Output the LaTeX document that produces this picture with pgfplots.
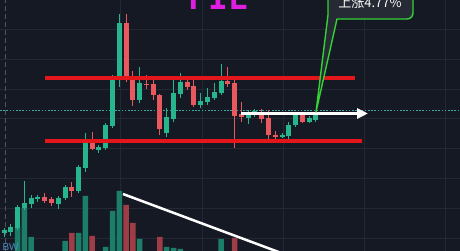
\documentclass[border=0pt]{standalone}
\usepackage{pgfplots}
\pgfplotsset{compat=1.18}
\usepackage{pgfplotstable}
\usepackage{fontspec}
\setmainfont{Liberation Sans}
\setsansfont{Liberation Sans}
\newfontfamily\cjkfont{Noto Sans CJK SC}
\newfontfamily\tickerfont{DejaVu Sans Mono}
\usetikzlibrary{arrows.meta}

\definecolor{chartbg}{HTML}{151924}
\definecolor{gridc}{HTML}{242835}
\definecolor{upc}{HTML}{26B58C}
\definecolor{dnc}{HTML}{E8585F}
\definecolor{upvol}{HTML}{1C7D68}
\definecolor{dnvol}{HTML}{9E3D45}
\definecolor{lvl}{HTML}{E3161B}
\definecolor{lastc}{HTML}{33A6A0}
\definecolor{tickerc}{HTML}{E01EE0}
\definecolor{callbg}{HTML}{262A34}
\definecolor{callgreen}{HTML}{35D235}
\definecolor{bwc}{HTML}{4F8CC4}
\definecolor{crossc}{HTML}{50545F}

% rising candles: x o h l c
\pgfplotstableread{
x o h l c
4.0 18 23 14 21
10.8 19 27 15 24
17.6 23 46 21 44
24.3 43 70 41 48
31.1 47 56 43 53
37.9 52 56 49 54
58.2 47 55 42 53
65.0 53 66 51 64
78.6 60 86 58 84
85.4 83 118 79 109
98.9 101 106 98 104
105.7 103 128 101 126
112.5 125 176 123 174
119.3 173 237 164 228
139.6 151 184 148 168
166.7 118 143 114 134
173.5 132 173 129 158
180.3 157 178 153 169
200.6 146 158 143 150
207.4 149 163 146 154
214.2 153 168 151 159
221.0 158 187 156 170
248.1 133 141 127 138
254.9 136 142 134 140
282.0 114 118 113 116
288.8 115 129 111 126
295.6 126 139 124 136
309.1 129 135 128 133
315.9 131 138 129 136
}\upcandles

% falling candles: x o h l c
\pgfplotstableread{
x o h l c
44.7 54 58 48 50
51.5 52 54 45 48
71.8 64 69 54 60
92.1 109 119 101 102
126.0 228 237 169 171
132.8 172 180 145 151
146.4 167 176 162 166
153.2 167 171 151 156
159.9 156 157 116 122
187.1 169 173 161 164
193.8 165 171 144 146
227.7 170 184 164 167
234.5 168 173 103 135
241.3 137 149 129 134
261.7 139 142 128 132
268.4 133 141 109 116
275.2 116 120 111 114
302.3 136 138 128 129
}\dncandles

% volume
\pgfplotstableread{
x v
17.6 24
24.3 43
31.1 14
65.0 10
78.6 18
85.4 55
105.7 4
112.5 40
119.3 60
139.6 12
166.7 4
173.5 3
180.3 2
221.0 12
}\upvolume

\pgfplotstableread{
x v
71.8 18
92.1 15
126.0 46
132.8 28
159.9 14
234.5 13
}\dnvolume

\pgfplotsset{
  candle/.style n args={2}{draw=none, mark=none, forget plot,
    error bars/.cd, y dir=plus, y explicit, error mark=none,
    error mark options={draw=none, fill=none, mark size=0pt},
    error bar style={line width=#2, line cap=butt, draw=#1}},
  vol/.style={ybar, bar width=5.5, bar shift=0pt, draw=none, fill=#1, forget plot},
  gridline/.style={gridc, line width=0.6pt, forget plot},
}

\begin{document}
\begin{tikzpicture}
\fill[chartbg] (0,0) rectangle (460pt,251pt);
\begin{axis}[
  at={(0,0)}, anchor=south west,
  width=460pt, height=251pt, scale only axis,
  xmin=0, xmax=460, ymin=0, ymax=251,
  hide axis,
  clip=true,
]
% grid
\addplot[gridline] coordinates {(120,0) (120,251)};
\addplot[gridline] coordinates {(202,0) (202,251)};
\addplot[gridline] coordinates {(283,0) (283,251)};
\addplot[gridline] coordinates {(364,0) (364,251)};
\addplot[gridline] coordinates {(445,0) (445,251)};
\addplot[gridline] coordinates {(0,13) (460,13)};
\addplot[gridline] coordinates {(0,43) (460,43)};
\addplot[gridline] coordinates {(0,73) (460,73)};
\addplot[gridline] coordinates {(0,103) (460,103)};
\addplot[gridline] coordinates {(0,133) (460,133)};
\addplot[gridline] coordinates {(0,162) (460,162)};
\addplot[gridline] coordinates {(0,192) (460,192)};
\addplot[gridline] coordinates {(0,222) (460,222)};

% crosshair and last-price line
\addplot[crossc, line width=0.8pt, dash pattern=on 5pt off 3pt] coordinates {(5,0) (5,251)};
\addplot[lastc, line width=0.8pt, dash pattern=on 1.6pt off 1.6pt] coordinates {(0,141) (460,141)};

% volume bars
\addplot[vol=upvol] table[x=x, y=v] {\upvolume};
\addplot[vol=dnvol] table[x=x, y=v] {\dnvolume};

% wicks
\addplot[candle={upc}{1pt}] table[x=x, y=l, y error expr=\thisrow{h}-\thisrow{l}] {\upcandles};
\addplot[candle={dnc}{1pt}] table[x=x, y=l, y error expr=\thisrow{h}-\thisrow{l}] {\dncandles};
% bodies
\addplot[candle={upc}{5pt}] table[x=x, y=o, y error expr=\thisrow{c}-\thisrow{o}] {\upcandles};
\addplot[candle={dnc}{5pt}] table[x=x, y=c, y error expr=\thisrow{o}-\thisrow{c}] {\dncandles};

% range levels
\addplot[lvl, line width=4pt] coordinates {(45,172.5) (355,172.5)};
\addplot[lvl, line width=4pt] coordinates {(45,109.5) (362,109.5)};

% trend arrows
\addplot[white, line width=3pt, -{Triangle[length=11pt,width=10pt]}] coordinates {(241,137.5) (368,137.5)};
\addplot[white, line width=2.5pt, overlay] coordinates {(123,57) (300,-9)};

% callout
\draw[overlay, fill=callbg, draw=callgreen, line width=1.4pt, line join=round]
  (axis cs:328,275) -- (axis cs:328,236) -- (axis cs:316,139) -- (axis cs:337,232)
  [rounded corners=6pt] -- (axis cs:413,232) -- (axis cs:413,275) [sharp corners] -- cycle;
\node[overlay, font=\cjkfont\fontsize{13}{13}\selectfont, text=white, anchor=base]
  at (axis cs:370,243) {上涨4.77\%};

% ticker
\node[overlay, font=\tickerfont\bfseries\fontsize{33}{33}\selectfont, text=tickerc, anchor=base]
  at (axis cs:218,241) {FIL};
\node[overlay, font=\sffamily\fontsize{10}{10}\selectfont, text=bwc, anchor=base west]
  at (axis cs:-1,0.5) {BW};
\end{axis}
\end{tikzpicture}
\end{document}
